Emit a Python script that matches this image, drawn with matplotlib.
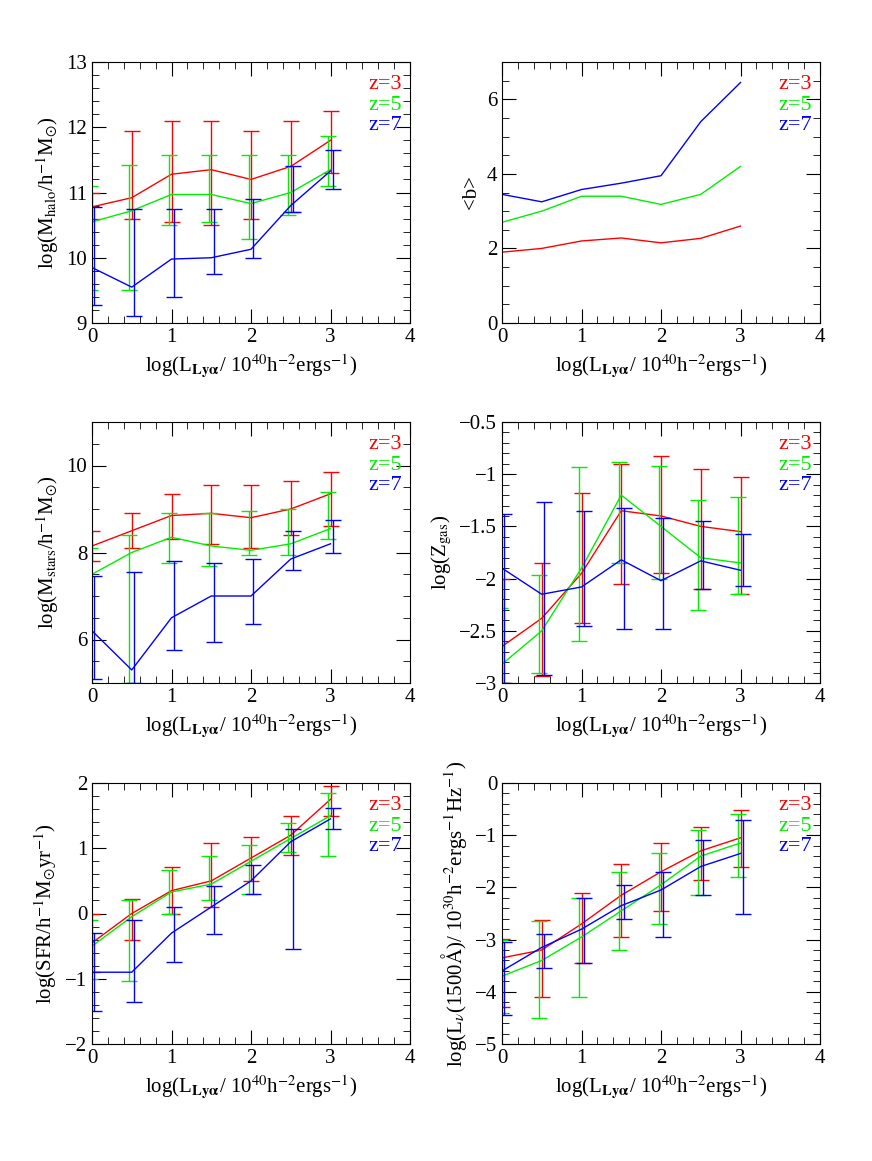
import matplotlib
matplotlib.use("Agg")
import matplotlib.pyplot as plt
from matplotlib.ticker import MultipleLocator, FuncFormatter
import numpy as np

plt.rcParams['font.family'] = 'Liberation Serif'
plt.rcParams['mathtext.fontset'] = 'stix'

x = np.array([0, 0.5, 1, 1.5, 2, 2.5, 3])
zs = ['z=3', 'z=5', 'z=7']
cols = ['red', '#00ee00', 'blue']
offs = [0.0, -0.03, 0.03]

mh_val = [[10.78,10.92,11.28,11.35,11.2,11.4,11.8],[10.55,10.72,10.97,10.97,10.83,11.0,11.35],[9.85,9.55,9.98,10.0,10.13,10.8,11.33]]
mh_hi = [[11.0,11.95,12.1,12.1,11.95,12.1,12.25],[11.1,11.42,11.57,11.57,11.57,11.57,11.87],[10.78,10.75,10.75,10.75,10.9,11.4,11.65]]
mh_lo = [[10.6,10.6,10.55,10.5,10.6,10.7,11.3],[9.5,9.5,10.5,10.55,10.28,10.65,11.1],[9.28,9.1,9.4,9.75,10.0,10.7,11.05]]

b_val = [[1.9,2.0,2.2,2.28,2.15,2.27,2.6],[2.7,3.0,3.4,3.4,3.18,3.45,4.2],[3.45,3.25,3.58,3.75,3.95,5.4,6.45]]

ms_val = [[8.15,8.5,8.85,8.9,8.8,9.0,9.35],[7.5,8.0,8.35,8.15,8.05,8.2,8.55],[6.2,5.3,6.5,7.0,7.0,7.85,8.2]]
ms_hi = [[8.5,8.9,9.35,9.55,9.55,9.65,9.85],[8.1,8.4,8.9,8.9,8.95,9.0,9.4],[7.45,7.55,7.8,7.75,7.85,8.5,8.75]]
ms_lo = [[7.8,8.1,8.3,8.2,8.1,8.4,8.6],[5.0,5.0,7.75,7.7,7.95,7.95,8.3],[5.1,5.0,5.75,5.95,6.35,7.6,8.0]]

zg_val = [[-2.65,-2.38,-1.95,-1.35,-1.4,-1.5,-1.55],[-2.82,-2.5,-1.9,-1.2,-1.5,-1.8,-1.85],[-1.9,-2.15,-2.08,-1.82,-2.02,-1.83,-1.92]]
zg_hi = [[-2.0,-1.85,-1.18,-0.9,-0.83,-0.95,-1.03],[-2.28,-1.97,-0.93,-0.88,-0.92,-1.25,-1.22],[-1.38,-1.27,-1.35,-1.32,-1.42,-1.45,-1.57]]
zg_lo = [[-3.0,-2.93,-2.43,-2.05,-1.95,-2.1,-2.15],[-3.0,-2.9,-2.6,-1.85,-2.0,-2.3,-2.15],[-3.0,-2.92,-2.45,-2.48,-2.48,-2.1,-2.07]]

sfr_val = [[-0.45,0.0,0.35,0.5,0.85,1.2,1.75],[-0.5,-0.05,0.33,0.45,0.8,1.15,1.5],[-0.9,-0.9,-0.3,0.1,0.5,1.1,1.45]]
sfr_hi = [[0.0,0.22,0.72,1.08,1.18,1.5,1.95],[-0.1,0.2,0.67,0.88,1.05,1.38,1.85],[-0.3,-0.1,0.1,0.42,0.75,1.3,1.62]]
sfr_lo = [[-0.9,-0.4,0.0,0.1,0.5,0.9,1.5],[-1.0,-1.03,0.0,0.2,0.3,0.95,0.88],[-1.5,-1.35,-0.75,-0.32,0.3,-0.55,1.3]]

lu_val = [[-3.35,-3.2,-2.7,-2.15,-1.7,-1.3,-1.05],[-3.7,-3.4,-2.95,-2.45,-1.95,-1.4,-1.15],[-3.6,-3.15,-2.8,-2.35,-2.05,-1.6,-1.35]]
lu_hi = [[-2.98,-2.62,-2.1,-1.55,-1.15,-0.85,-0.52],[-3.0,-2.65,-2.2,-1.7,-1.35,-0.9,-0.6],[-3.05,-2.9,-2.2,-1.95,-1.7,-1.1,-0.7]]
lu_lo = [[-4.3,-4.1,-3.45,-2.95,-2.45,-1.85,-1.6],[-4.4,-4.5,-4.1,-3.2,-2.7,-2.15,-1.8],[-4.45,-3.55,-3.45,-2.6,-2.95,-2.15,-2.5]]

xlabel = r'log(L$_{\mathbf{Ly\alpha}}$/ 10$^{40}$h$^{-2}$ergs$^{-1}$)'

fig = plt.figure(figsize=(8.72, 11.61), dpi=100)
W, H = 872, 1161
lefts = [92, 502]
tops = [62, 422, 783]
pw, ph = 318, 261

panels = [
    (mh_val, mh_hi, mh_lo, (9, 13), 1, 0.2, r'log(M$_{\mathrm{halo}}$/h$^{-1}$M$_{\odot}$)'),
    (b_val, None, None, (0, 7), 2, 0.5, r'<b>'),
    (ms_val, ms_hi, ms_lo, (5, 11), 2, 0.5, r'log(M$_{\mathrm{stars}}$/h$^{-1}$M$_{\odot}$)'),
    (zg_val, zg_hi, zg_lo, (-3, -0.5), 0.5, 0.1, r'log(Z$_{\mathrm{gas}}$)'),
    (sfr_val, sfr_hi, sfr_lo, (-2, 2), 1, 0.2, r'log(SFR/h$^{-1}$M$_{\odot}$yr$^{-1}$)'),
    (lu_val, lu_hi, lu_lo, (-5, 0), 1, 0.2, r'log(L$_{\nu}$(1500$\mathrm{\AA}$)/ 10$^{30}$h$^{-2}$ergs$^{-1}$Hz$^{-1}$)'),
]

fmt = FuncFormatter(lambda v, p: ('%g' % v).replace('-', '\u2212'))

for i, (val, hi, lo, ylim, maj, mnr, ylab) in enumerate(panels):
    r, c = divmod(i, 2)
    ax = fig.add_axes([lefts[c]/W, 1-(tops[r]+ph)/H, pw/W, ph/H])
    for k in range(3):
        v = np.array(val[k])
        ax.plot(x, v, color=cols[k], lw=1)
        if hi is not None:
            h = np.array(hi[k]); l = np.array(lo[k])
            ax.errorbar(x + offs[k], v, yerr=[v - l, h - v], fmt='none',
                        ecolor=cols[k], elinewidth=1, capsize=6, capthick=1, clip_on=True)
        ax.text(0.87, 0.915 - 0.08*k, zs[k], color=cols[k], transform=ax.transAxes,
                fontsize=16, ha='left', va='center')
    ax.set_xlim(0, 4)
    ax.set_ylim(*ylim)
    ax.xaxis.set_major_locator(MultipleLocator(1))
    ax.xaxis.set_minor_locator(MultipleLocator(0.2))
    ax.yaxis.set_major_locator(MultipleLocator(maj))
    ax.yaxis.set_minor_locator(MultipleLocator(mnr))
    ax.xaxis.set_major_formatter(fmt)
    ax.yaxis.set_major_formatter(fmt)
    ax.tick_params(which='both', direction='in', top=True, right=True, labelsize=15)
    ax.tick_params(which='major', length=10)
    ax.tick_params(which='minor', length=5)
    ax.set_xlabel(xlabel, fontsize=15)
    ax.set_ylabel(ylab, fontsize=15)

fig.savefig('out.png', dpi=100)
